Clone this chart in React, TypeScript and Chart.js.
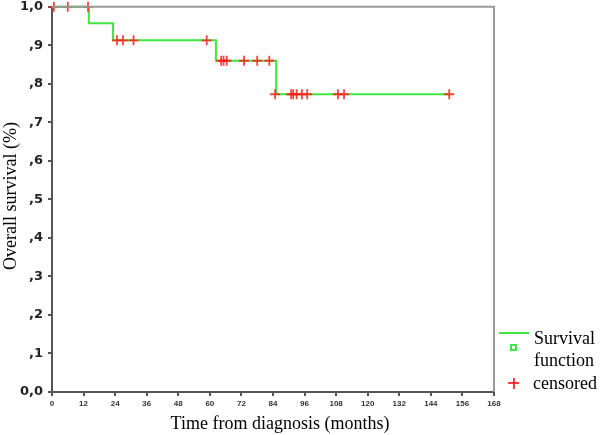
import React, { useEffect, useRef } from "react";
import { Chart, registerables } from "chart.js";

Chart.register(...registerables);

// Kaplan-Meier step points (time in months, survival)
const stepTimes = [0, 14, 23.2, 62.3, 85.2, 151];
const stepSurvival = [1, 0.957, 0.913, 0.86, 0.773, 0.773];

// Censored observations
const censoredTimes = [0.7, 6, 13.7, 24.7, 27, 31, 58.8, 64.3, 65.2, 66.4, 73, 78, 82.6, 84.8, 90.9, 91.7, 93, 95, 97, 108.7, 111, 151];
const censoredSurvival = [1, 1, 1, 0.913, 0.913, 0.913, 0.913, 0.86, 0.86, 0.86, 0.86, 0.86, 0.86, 0.773, 0.773, 0.773, 0.773, 0.773, 0.773, 0.773, 0.773, 0.773];

const xTickMax = 168;
const xTickStep = 12;
const yTickStep = 0.1;

const xTitle = "Time from diagnosis (months)";
const yTitle = "Overall survival (%)";
const legendLabels = ["Survival", "function", "censored"];

const GREEN = "#3ee83e";
const RED = "rgba(255,30,30,0.85)";

const frame = {
  id: "frame",
  afterDatasetsDraw(chart: any) {
    const { ctx, chartArea } = chart;
    ctx.save();
    ctx.strokeStyle = "#9a9a9a";
    ctx.lineWidth = 2;
    ctx.beginPath();
    ctx.moveTo(chartArea.left, chartArea.top);
    ctx.lineTo(chartArea.right, chartArea.top);
    ctx.lineTo(chartArea.right, chartArea.bottom);
    ctx.stroke();
    ctx.restore();
  },
};

function fmtY(v: number) {
  const t = Math.round(v * 10);
  if (t === 10) return "1,0";
  if (t === 0) return "0,0";
  return "," + t;
}

export default function App() {
  const ref = useRef<HTMLCanvasElement | null>(null);
  useEffect(() => {
    document.body.style.margin = "0";
    const ctx = ref.current!.getContext("2d")!;
    const chart = new Chart(ctx, {
      type: "scatter",
      data: {
        datasets: [
          {
            type: "line",
            label: "Survival function",
            data: stepTimes.map((t, i) => ({ x: t, y: stepSurvival[i] })),
            borderColor: GREEN,
            borderWidth: 2,
            pointRadius: 0,
            stepped: "before",
            fill: false,
            clip: false,
            order: 2,
          } as any,
          {
            type: "scatter",
            label: "censored",
            data: censoredTimes.map((t, i) => ({ x: t, y: censoredSurvival[i] })),
            pointStyle: "cross",
            pointRadius: 5,
            borderColor: RED,
            backgroundColor: RED,
            pointBorderWidth: 1.8,
            clip: false,
            order: 1,
          } as any,
        ],
      },
      options: {
        animation: false,
        responsive: false,
        maintainAspectRatio: false,
        layout: { padding: { top: 5, right: 106, left: 0, bottom: 0 } },
        plugins: { legend: { display: false }, tooltip: { enabled: false } },
        scales: {
          x: {
            type: "linear",
            min: 0,
            max: xTickMax,
            ticks: {
              stepSize: xTickStep,
              color: "#333",
              font: { family: "Liberation Sans", size: 8, weight: "bold" },
              padding: 3,
              maxRotation: 0,
            },
            grid: { drawOnChartArea: false, drawTicks: true, tickLength: 4, color: "#555", lineWidth: 2 },
            border: { color: "#555", width: 2 },
            afterFit(scale: any) {
              scale.height = 43;
            },
          },
          y: {
            type: "linear",
            min: 0,
            max: 1,
            ticks: {
              stepSize: yTickStep,
              color: "#222",
              font: { family: "DejaVu Sans", size: 13, weight: "bold" },
              padding: 5,
              callback: (v: any) => fmtY(Number(v)),
            },
            grid: { drawOnChartArea: false, drawTicks: true, tickLength: 4, color: "#555", lineWidth: 2 },
            border: { color: "#555", width: 2 },
            afterFit(scale: any) {
              scale.width = 52;
              scale.paddingTop = 0;
              scale.paddingBottom = 0;
            },
          },
        },
      } as any,
      plugins: [frame],
    });
    return () => chart.destroy();
  }, []);

  const txt: React.CSSProperties = {
    position: "absolute",
    fontFamily: "Liberation Serif",
    fontSize: 18,
    color: "#000",
    lineHeight: "20px",
    whiteSpace: "nowrap",
  };

  return (
    <div style={{ position: "absolute", left: 0, top: 0, width: 600, height: 435, background: "#fff" }}>
      <canvas ref={ref} width={600} height={435} style={{ position: "absolute", left: 0, top: 0 }} />
      <div style={{ ...txt, left: 280, top: 413, transform: "translateX(-50%)" }}>{xTitle}</div>
      <div
        style={{
          ...txt,
          left: 10,
          top: 196,
          transform: "translate(-50%, -50%) rotate(-90deg)",
        }}
      >
        {yTitle}
      </div>
      <div style={{ position: "absolute", left: 499, top: 332, width: 30, height: 2, background: GREEN }} />
      <div style={{ ...txt, left: 534, top: 328 }}>{legendLabels[0]}</div>
      <div style={{ position: "absolute", left: 510, top: 344, width: 3, height: 3, border: `2px solid ${GREEN}` }} />
      <div style={{ ...txt, left: 534, top: 350 }}>{legendLabels[1]}</div>
      <div style={{ position: "absolute", left: 508, top: 382, width: 11, height: 2, background: RED }} />
      <div style={{ position: "absolute", left: 512.5, top: 377.5, width: 2, height: 11, background: RED }} />
      <div style={{ ...txt, left: 533, top: 373 }}>{legendLabels[2]}</div>
    </div>
  );
}
